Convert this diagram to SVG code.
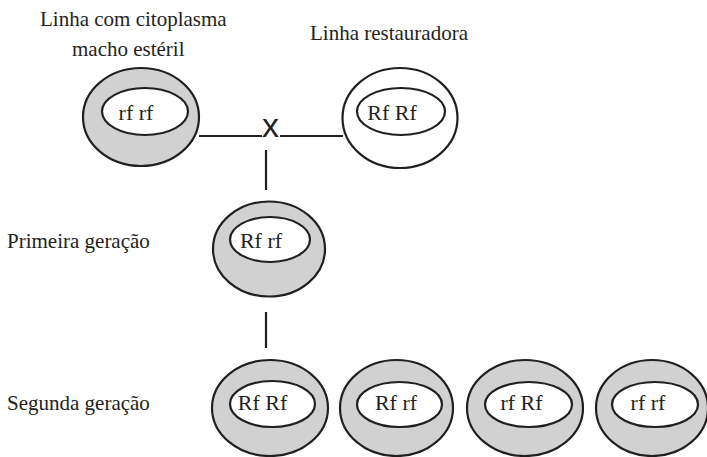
<svg xmlns="http://www.w3.org/2000/svg" width="707" height="457" viewBox="0 0 707 457">
<style>
.outer{fill:#d1d1d1;stroke:#231f20;stroke-width:2.2}
.outer.w{fill:#ffffff}
.inner{fill:#ffffff;stroke:#231f20;stroke-width:2.2}
.lbl{font-family:"Liberation Serif","Times New Roman",serif;font-size:21px;fill:#231f20}
.gen{font-family:"Liberation Serif","Times New Roman",serif;font-size:22px;fill:#231f20;text-anchor:middle}
.conn line{stroke:#231f20;stroke-width:2.2}
</style>
<rect width="707" height="457" fill="#ffffff"/>
<g id="labels">
<text class="lbl" x="40" y="26">Linha com citoplasma</text>
<text class="lbl" x="72" y="56">macho estéril</text>
<text class="lbl" x="310" y="40">Linha restauradora</text>
<text class="lbl" x="7" y="248">Primeira geração</text>
<text class="lbl" x="7" y="410">Segunda geração</text>
</g>
<g id="connectors" class="conn">
<line x1="199" y1="136" x2="262" y2="136"/>
<line x1="280" y1="136" x2="343" y2="136"/>
<line x1="266" y1="150" x2="266" y2="190"/>
<line x1="266" y1="312" x2="266" y2="348"/>
<text x="270.5" y="137" font-family="Liberation Sans, Arial, sans-serif" font-size="34" text-anchor="middle" fill="#231f20">x</text>
</g>
<g id="p1">
<ellipse class="outer" cx="141" cy="117" rx="58" ry="49"/>
<ellipse class="inner" cx="145" cy="111.5" rx="43" ry="23.5"/>
<text class="gen" x="136" y="120">rf rf</text>
</g>
<g id="p2">
<ellipse class="outer w" cx="400" cy="118" rx="57.5" ry="50"/>
<ellipse class="inner" cx="401" cy="111.5" rx="44" ry="23.5"/>
<text class="gen" x="392" y="120">Rf Rf</text>
</g>
<g id="f1">
<ellipse class="outer" cx="269" cy="249" rx="56" ry="47.5"/>
<ellipse class="inner" cx="270" cy="239.5" rx="40" ry="22.5"/>
<text class="gen" x="261" y="248">Rf rf</text>
</g>
<g id="s1">
<ellipse class="outer" cx="270" cy="408" rx="58" ry="48"/>
<ellipse class="inner" cx="272.5" cy="404" rx="42.5" ry="23"/>
<text class="gen" x="262.5" y="410">Rf Rf</text>
</g>
<g id="s2">
<ellipse class="outer" cx="396.5" cy="408" rx="56.5" ry="48"/>
<ellipse class="inner" cx="399.5" cy="404.5" rx="42.5" ry="22.5"/>
<text class="gen" x="396" y="410">Rf rf</text>
</g>
<g id="s3">
<ellipse class="outer" cx="525" cy="408" rx="58" ry="48"/>
<ellipse class="inner" cx="528.5" cy="404.5" rx="43.5" ry="22.5"/>
<text class="gen" x="521.5" y="410">rf Rf</text>
</g>
<g id="s4">
<ellipse class="outer" cx="652" cy="408" rx="56" ry="48"/>
<ellipse class="inner" cx="655" cy="404.5" rx="43" ry="22.5"/>
<text class="gen" x="648" y="410">rf rf</text>
</g>
</svg>
